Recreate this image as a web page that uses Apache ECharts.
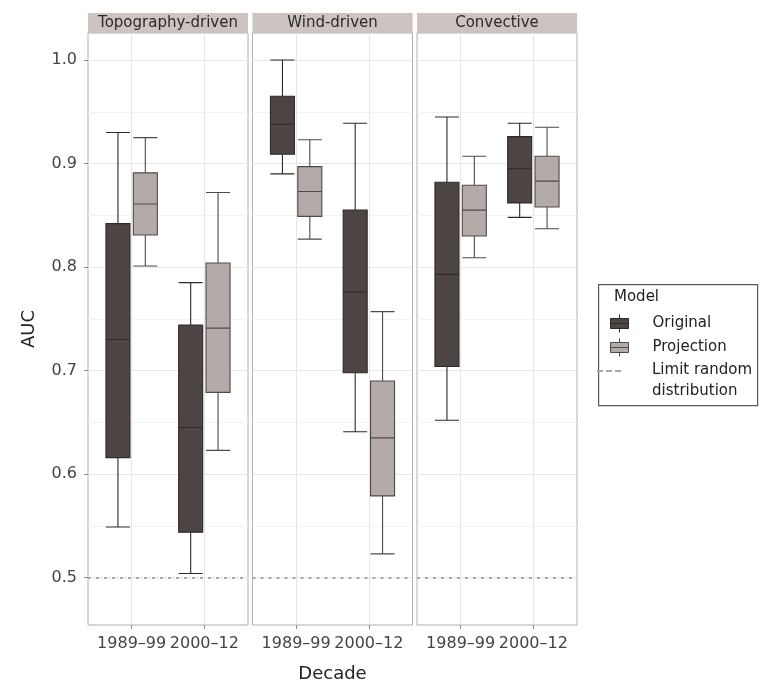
<!DOCTYPE html>
<html>
<head>
<meta charset="utf-8">
<script src="https://cdn.jsdelivr.net/npm/echarts@6/dist/echarts.min.js"></script>
<style>html,body{margin:0;padding:0;background:#fff}#chart{width:760px;height:688px}</style>
</head>
<body>
<div id="chart"></div>
<script>
// ---- data ----
const panels = ['Topography-driven', 'Wind-driven', 'Convective'];
const decades = ['1989–99', '2000–12'];
// [min, Q1, median, Q3, max] per decade
const originalTopo = [[0.549, 0.616, 0.730, 0.842, 0.930], [0.504, 0.544, 0.645, 0.744, 0.785]];
const projectionTopo = [[0.801, 0.831, 0.861, 0.891, 0.925], [0.623, 0.679, 0.741, 0.804, 0.872]];
const originalWind = [[0.890, 0.909, 0.938, 0.965, 1.000], [0.641, 0.698, 0.776, 0.855, 0.939]];
const projectionWind = [[0.827, 0.849, 0.873, 0.897, 0.923], [0.523, 0.579, 0.635, 0.690, 0.757]];
const originalConv = [[0.652, 0.704, 0.793, 0.882, 0.945], [0.848, 0.862, 0.895, 0.926, 0.939]];
const projectionConv = [[0.809, 0.830, 0.855, 0.879, 0.907], [0.837, 0.858, 0.883, 0.907, 0.935]];
const yTicks = [0.5, 0.6, 0.7, 0.8, 0.9, 1.0];
const yMinorTicks = [0.55, 0.65, 0.75, 0.85, 0.95];
const limitRandom = 0.5;
const seriesNames = ['Original', 'Projection'];
const limitName = 'Limit random distribution';

// ---- layout ----
const FONT = 'DejaVu Sans';
const PANEL_LEFT = [88, 252.5, 417];
const PANEL_W = 160;
const TOP = 33, BOTTOM = 63;
const INSET = 18;
const X_MIN = 0.4, X_MAX = 2.6;
const Y_MIN = 0.4543, Y_MAX = 1.0261;
const pxPerUnit = PANEL_W / (X_MAX - X_MIN);
const innerMin = X_MIN + INSET / pxPerUnit;
const innerMax = X_MAX - INSET / pxPerUnit;

const originals = [originalTopo, originalWind, originalConv];
const projections = [projectionTopo, projectionWind, projectionConv];
const fills = ['#4d4444', '#b3aba8'];
const borders = ['#2f2929', '#4f4a4a'];

const grid = [], xAxis = [], yAxis = [], series = [], graphic = [];
panels.forEach((name, p) => {
  grid.push({left: PANEL_LEFT[p], top: TOP, width: PANEL_W, bottom: BOTTOM, show: true,
    borderColor: '#b0b0b0', borderWidth: 1, backgroundColor: '#fff', outerBoundsMode: 'none'});
  grid.push({left: PANEL_LEFT[p] + INSET, top: TOP, width: PANEL_W - 2 * INSET, bottom: BOTTOM, outerBoundsMode: 'none'});

  xAxis.push({gridIndex: 2 * p, type: 'value', min: X_MIN, max: X_MAX,
    axisLine: {show: false},
    axisTick: {show: true, customValues: [1, 2], length: 4, lineStyle: {color: '#8a8a8a'}},
    axisLabel: {customValues: [1, 2], formatter: v => decades[Math.round(v) - 1],
      fontSize: 16, color: '#444', fontFamily: FONT, margin: 11},
    splitLine: {show: true, lineStyle: {color: '#e6e6e6', width: 1}},
    name: p === 1 ? 'Decade' : '', nameLocation: 'middle', nameGap: 40,
    nameTextStyle: {fontSize: 18, color: '#222', fontFamily: FONT}});
  xAxis.push({gridIndex: 2 * p + 1, type: 'value', min: innerMin, max: innerMax, show: false});

  yAxis.push({gridIndex: 2 * p, type: 'value', min: Y_MIN, max: Y_MAX,
    axisLine: {show: false},
    axisTick: {show: p === 0, customValues: yTicks, length: 4, lineStyle: {color: '#8a8a8a'}},
    axisLabel: {show: p === 0, customValues: yTicks, formatter: v => v.toFixed(1),
      fontSize: 16, color: '#444', fontFamily: FONT, margin: 11},
    splitLine: {show: true, lineStyle: {color: '#e6e6e6', width: 1}},
    name: p === 0 ? 'AUC' : '', nameLocation: 'middle', nameGap: 50,
    nameTextStyle: {fontSize: 18, color: '#222', fontFamily: FONT}});
  yAxis.push({gridIndex: 2 * p, type: 'value', min: Y_MIN, max: Y_MAX, position: 'left',
    axisLine: {show: false}, axisLabel: {show: false},
    axisTick: {show: false, customValues: yMinorTicks},
    splitLine: {show: true, lineStyle: {color: '#f3f3f3', width: 1}}});
  yAxis.push({gridIndex: 2 * p + 1, type: 'value', min: Y_MIN, max: Y_MAX, show: false});

  [originals[p], projections[p]].forEach((vals, s) => {
    series.push({
      type: 'boxplot', name: seriesNames[s],
      xAxisIndex: 2 * p + 1, yAxisIndex: 3 * p + 2,
      boxWidth: [24, 24],
      itemStyle: {color: fills[s], borderColor: borders[s], borderWidth: 1.1},
      emphasis: {disabled: true},
      data: vals.map((v, i) => [i + 1].concat(v))
    });
  });

  series.push({
    type: 'line', name: limitName, xAxisIndex: 2 * p, yAxisIndex: 3 * p,
    data: [], symbol: 'none', color: '#a8a8a8',
    lineStyle: {type: [3, 5], color: '#a8a8a8'},
    markLine: {silent: true, symbol: ['none', 'none'], label: {show: false},
      lineStyle: {type: [3, 5], color: '#aaaaaa', width: 2},
      data: [{yAxis: limitRandom}]}
  });

  graphic.push({type: 'rect', left: PANEL_LEFT[p], top: 13, silent: true,
    shape: {width: PANEL_W, height: 20}, style: {fill: '#ccc4c1'}});
  graphic.push({type: 'text', x: PANEL_LEFT[p] + PANEL_W / 2, y: 23, silent: true,
    style: {text: name, fontSize: 15, fontFamily: FONT, fill: '#2a2a2a', align: 'center', verticalAlign: 'middle'}});
});

// legend frame & title
graphic.push({type: 'rect', left: 598, top: 284, silent: true,
  shape: {width: 159, height: 121}, style: {fill: '#fff', stroke: '#5a5a5a', lineWidth: 1.2}, z: -1});
graphic.push({type: 'text', x: 614, y: 297, silent: true,
  style: {text: 'Model', fontSize: 15, fontFamily: FONT, fill: '#222', verticalAlign: 'middle'}});

const boxIcon = 'path://M0,0M56,18M19,4h18v10h-18zM19,9h18M28,0v4M28,14v4';
const dashIcon = 'path://M0,0M56,42M6,10h6v2h-6zM15,10h6v2h-6zM24,10h6v2h-6z';

const option = {
  animation: false,
  backgroundColor: '#fff',
  textStyle: {fontFamily: FONT},
  grid, xAxis, yAxis, series, graphic,
  legend: [
    {orient: 'vertical', left: 591, top: 314, padding: 0, itemWidth: 56, itemHeight: 18, itemGap: 5,
      selectedMode: false,
      textStyle: {fontSize: 15, color: '#222', fontFamily: FONT, lineHeight: 18},
      data: seriesNames.map((n, s) => ({name: n, icon: boxIcon,
        itemStyle: {color: fills[s], borderColor: borders[s], borderWidth: 1}}))},
    {orient: 'vertical', left: 591, top: 360, padding: 0, itemWidth: 56, itemHeight: 42,
      selectedMode: false,
      formatter: () => 'Limit random\ndistribution',
      textStyle: {fontSize: 15, color: '#222', fontFamily: FONT, lineHeight: 21},
      data: [{name: limitName, icon: dashIcon, itemStyle: {color: '#a8a8a8', borderWidth: 0}}]}
  ]
};

const chart = echarts.init(document.getElementById('chart'), null, {renderer: 'canvas'});
chart.setOption(option);
</script>
</body>
</html>
